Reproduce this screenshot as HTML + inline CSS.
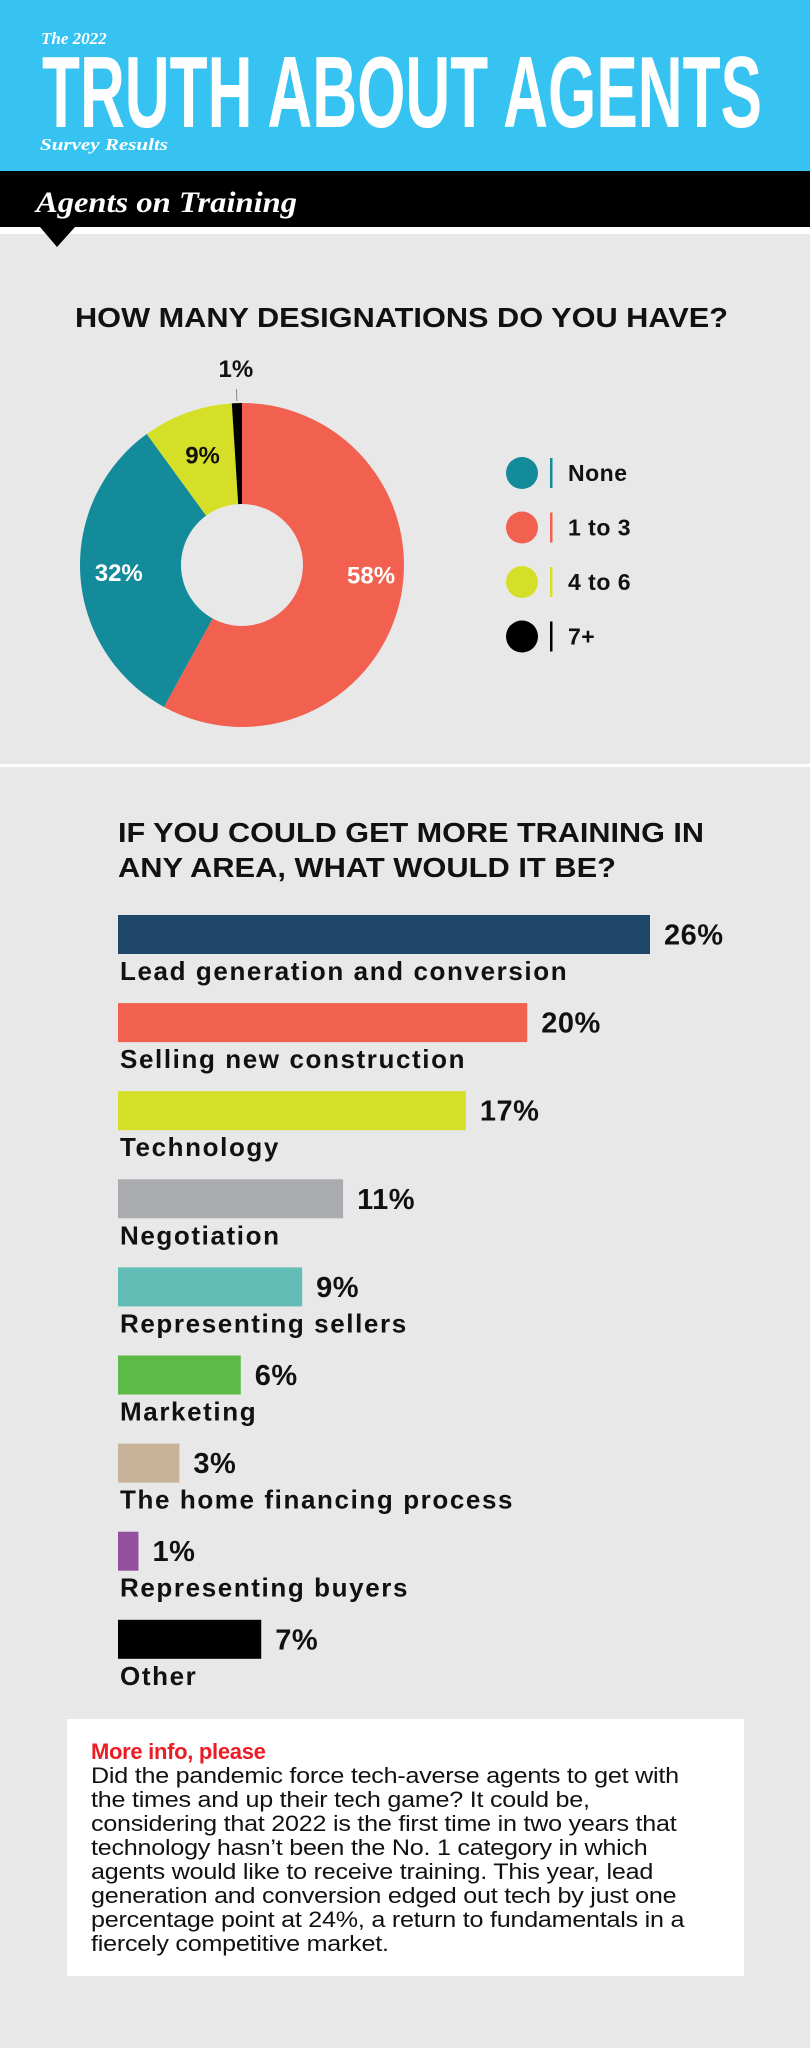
<!DOCTYPE html>
<html><head><meta charset="utf-8"><style>
html,body{margin:0;padding:0}
body{width:810px;height:2048px;background:#e8e8e8;position:relative;overflow:hidden;font-family:"Liberation Sans",sans-serif}
svg{position:absolute;left:0;top:0}
#info{position:absolute;left:67px;top:1719px;width:677px;height:257px;background:#fff}
#info .h{position:absolute;left:24px;top:20px;color:#ec1c24;font:bold 22px "Liberation Sans",sans-serif;letter-spacing:-0.3px}
#info .b{position:absolute;left:24px;top:45px;font:22.5px/24px "Liberation Sans",sans-serif;color:#111;white-space:nowrap;letter-spacing:-0.2px;transform:scaleX(1.115);transform-origin:0 0}
</style></head><body>
<svg id="main" width="810" height="2048">
  <rect x="0" y="0" width="810" height="171" fill="#36c3f1"/>
  <text x="41" y="44" fill="#fff" font-family="Liberation Serif,serif" font-style="italic" font-weight="bold" font-size="17">The 2022</text>
  <text x="42" y="127" fill="#fff" font-family="Liberation Sans,sans-serif" font-weight="bold" font-size="101" textLength="720" lengthAdjust="spacingAndGlyphs">TRUTH ABOUT AGENTS</text>
  <text x="40" y="150" fill="#fff" font-family="Liberation Serif,serif" font-style="italic" font-weight="bold" font-size="17" textLength="128" lengthAdjust="spacingAndGlyphs">Survey Results</text>
  <rect x="0" y="171" width="810" height="56" fill="#000"/>
  <rect x="0" y="227" width="810" height="7" fill="#fff"/>
  <polygon points="40,227 75,227 57,247" fill="#000"/>
  <text x="36" y="212" fill="#fff" font-family="Liberation Serif,serif" font-style="italic" font-weight="bold" font-size="30" textLength="261" lengthAdjust="spacingAndGlyphs">Agents on Training</text>
  <text x="75" y="327" fill="#111" font-weight="bold" font-size="28" textLength="653" lengthAdjust="spacingAndGlyphs">HOW MANY DESIGNATIONS DO YOU HAVE?</text>
  <g id="donut"></g>
  <g id="legend"></g>
  <rect x="0" y="764" width="810" height="3" fill="#fff"/>
  <text x="118" y="842" fill="#111" font-weight="bold" font-size="28" textLength="586" lengthAdjust="spacingAndGlyphs">IF YOU COULD GET MORE TRAINING IN</text>
  <text x="118" y="877" fill="#111" font-weight="bold" font-size="28" textLength="498" lengthAdjust="spacingAndGlyphs">ANY AREA, WHAT WOULD IT BE?</text>
  <g id="bars"></g>
</svg>
<div id="info">
  <div class="h">More info, please</div>
  <div class="b">Did the pandemic force tech-averse agents to get with<br>the times and up their tech game? It could be,<br>considering that 2022 is the first time in two years that<br>technology hasn’t been the No. 1 category in which<br>agents would like to receive training. This year, lead<br>generation and conversion edged out tech by just one<br>percentage point at 24%, a return to fundamentals in a<br>fiercely competitive market.</div>
</div>
<script>
const donutCategories = ["1 to 3","None","4 to 6","7+"];
const donutValues = [58,32,9,1];
const donutColors = ["#f26150","#138b9a","#d6df27","#000000"];
const donutLabels = ["58%","32%","9%","1%"];
const legendCategories = ["None","1 to 3","4 to 6","7+"];
const legendColors = ["#138b9a","#f26150","#d6df27","#000000"];

const barCategories = ["Lead generation and conversion","Selling new construction","Technology","Negotiation","Representing sellers","Marketing","The home financing process","Representing buyers","Other"];
const barValues = [26,20,17,11,9,6,3,1,7];
const barLabels = ["26%","20%","17%","11%","9%","6%","3%","1%","7%"];
const barColors = ["#1e476b","#f26150","#d6df27","#aaabae","#62bdb6","#5cba47","#c8b299","#93509e","#000000"];

const NS="http://www.w3.org/2000/svg";
function mk(t,a,p){const e=document.createElementNS(NS,t);for(const k in a)e.setAttribute(k,a[k]);p.appendChild(e);return e;}

// donut
const cx=242,cy=565,R=162,r=61;
const total=donutValues.reduce((a,b)=>a+b,0);
const ang=v=>v/total*2*Math.PI;
const dg=document.getElementById('donut');
let a0=0;
donutValues.forEach((v,i)=>{
  const a1=a0+ang(v);
  const p=(a,rad)=>[cx+rad*Math.sin(a),cy-rad*Math.cos(a)];
  const [x0,y0]=p(a0,R),[x1,y1]=p(a1,R),[x2,y2]=p(a1,r),[x3,y3]=p(a0,r);
  const lg=(a1-a0)>Math.PI?1:0;
  const path=mk('path',{d:`M${x0},${y0}A${R},${R} 0 ${lg} 1 ${x1},${y1}L${x2},${y2}A${r},${r} 0 ${lg} 0 ${x3},${y3}Z`,fill:donutColors[i]},dg);
  
  
  const mid=(a0+a1)/2;
  let lx,ly,fill;
  if(v<3){
    const [tx,ty]=p(mid,R+14);
    const ln=mk('line',{x1:cx+(R+2)*Math.sin(mid),y1:cy-(R+2)*Math.cos(mid),x2:tx,y2:ty,stroke:'#888','stroke-width':1},dg);
    
    
    [lx,ly]=p(mid,R+34);fill='#111';
  } else if(v>50){
    [lx,ly]=p(mid-0.17,(R+r)/2+18);fill='#fff';
  } else {
    [lx,ly]=p(mid,(R+r)/2+(v>30?12:5));fill=(i==2)?'#111':'#fff';
  }
  const t=mk('text',{x:lx,y:ly+8,'text-anchor':'middle','font-weight':'bold','font-size':24,fill:fill},dg);
  t.textContent=donutLabels[i];
  
  
  a0=a1;
});
const lgG=document.getElementById('legend');
legendCategories.forEach((c,i)=>{
  const y=473+i*54.5;
  const g=mk('g',{},lgG);
  
  
  mk('circle',{cx:522,cy:y,r:16,fill:legendColors[i]},g);
  mk('rect',{x:550,y:y-15,width:2.5,height:30,fill:legendColors[i]},g);
  const t=mk('text',{x:568,y:y+8,'font-weight':'bold','font-size':23,fill:'#111','letter-spacing':0.5},g);
  t.textContent=c;
});

// bars
const x0b=118, wMax=532, vMax=26;
const xs=v=>v/vMax*wMax;
const y0b=915, step=88.1, bh=39;
const bg=document.getElementById('bars');
barValues.forEach((v,i)=>{
  const y=y0b+i*step;
  const w=xs(v);
  const b=mk('rect',{x:x0b,y:y,width:w,height:bh,fill:barColors[i]},bg);
  
  
  const vl=mk('text',{x:x0b+w+14,y:y+bh/2+10,'font-weight':'bold','font-size':29,fill:'#111','letter-spacing':0.5},bg);
  vl.textContent=barLabels[i];
  
  
  const cl=mk('text',{x:x0b+2,y:y+65,'font-weight':'bold','font-size':26,fill:'#111','letter-spacing':1.6},bg);
  cl.textContent=barCategories[i];
  
  
});
</script>
</body></html>
